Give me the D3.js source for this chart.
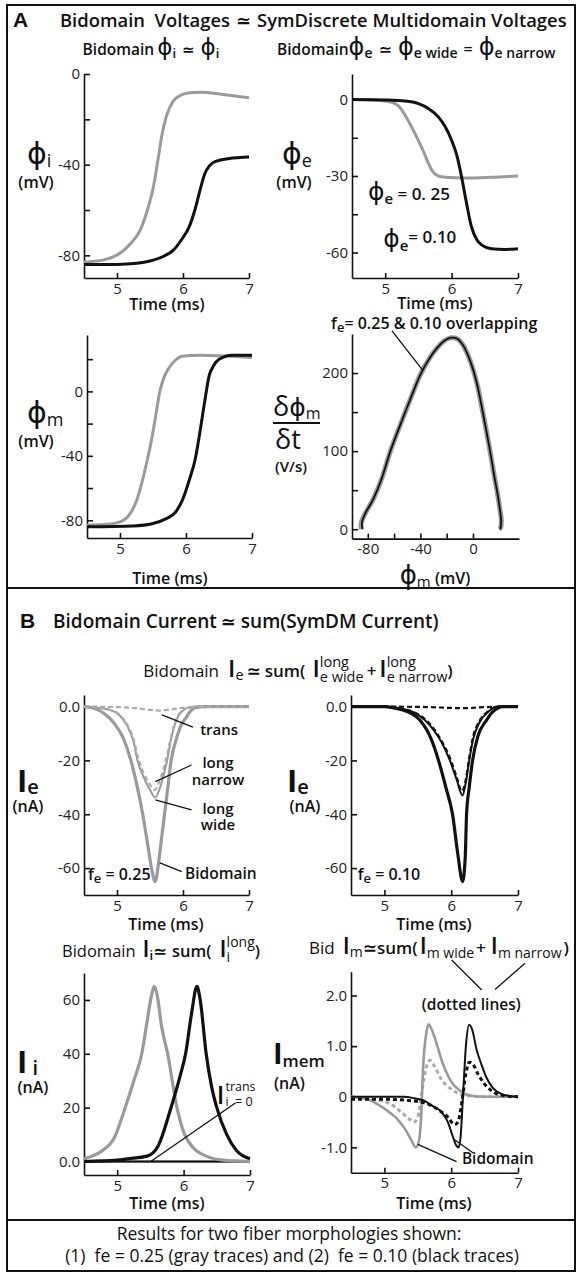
<!DOCTYPE html>
<html>
<head>
<meta charset="utf-8">
<title>Bidomain vs SymDiscrete Multidomain</title>
<style>
  body { margin: 0; background: #fff; }
  svg text { font-family: "Open Sans", "DejaVu Sans", sans-serif; fill: #111; }
  .axis path, .axis line { stroke: #111; stroke-width: 1.6px; }
  .axis text { font-size: 15px; fill: #222; font-family: "Open Sans", sans-serif; }
</style>
<script src="https://cdnjs.cloudflare.com/ajax/libs/d3/7.8.5/d3.min.js"></script>
</head>
<body>
<div id="chart"></div>
<script>
// ---------- data (time in ms) ----------
var timeTicks = [5, 6, 7];

// A: phi_i (mV)
var phiIGray  = [[4.5,-83],[4.8,-82],[5.05,-79],[5.2,-75],[5.35,-69],[5.45,-61],[5.55,-50],[5.62,-38],[5.68,-27],[5.75,-18.5],[5.85,-12],[5.95,-9.6],[6.1,-8.3],[6.26,-8],[6.6,-9],[7.0,-10.5]];
var phiIBlack = [[4.5,-84],[5.0,-84],[5.3,-83.5],[5.5,-82.5],[5.7,-80.5],[5.85,-77.8],[5.98,-73],[6.1,-67],[6.18,-60],[6.26,-51],[6.33,-44],[6.4,-40.5],[6.5,-38.5],[6.7,-37.3],[7.0,-36.6]];
// A: phi_e (mV)
var phiEGray  = [[4.5,0],[4.8,-0.2],[5.07,-0.9],[5.2,-2.5],[5.37,-9.4],[5.47,-14.5],[5.57,-20],[5.65,-25],[5.72,-28.4],[5.8,-30],[5.9,-30.5],[6.2,-30.8],[6.6,-30.5],[7.0,-30]];
var phiEBlack = [[4.5,0],[5.0,-0.2],[5.3,-0.6],[5.5,-1.6],[5.65,-3.5],[5.8,-6.8],[5.9,-10.5],[6.0,-16],[6.08,-22],[6.15,-30.3],[6.22,-40],[6.3,-50],[6.38,-55],[6.45,-57],[6.6,-58.5],[6.8,-58.8],[7.0,-58.5]];
// A: phi_m (mV)
var phiMGray  = [[4.5,-83],[4.8,-82.5],[5.0,-81],[5.15,-76],[5.25,-68],[5.32,-58.4],[5.4,-45],[5.48,-29.5],[5.55,-13],[5.6,-0.6],[5.66,8],[5.73,13.8],[5.83,19],[5.94,21.8],[6.2,22.5],[6.6,22],[7.0,21]];
var phiMBlack = [[4.5,-84],[5.2,-83.5],[5.5,-82],[5.7,-79],[5.84,-75],[5.95,-67],[6.05,-55],[6.14,-42],[6.2,-28],[6.25,-15],[6.3,-2],[6.35,9.6],[6.42,16],[6.5,20],[6.7,22.5],[7.0,22.5]];
// A: d(phi_m)/dt (V/s) against phi_m (mV)
var phaseGray  = [[-85,0],[-85,8],[-82,20],[-76,38],[-70,62],[-62.6,101],[-55,135],[-48,165],[-40,198],[-33,219],[-27.4,232],[-22,241],[-17.4,245],[-12,244],[-7.3,235],[-2,215],[2.8,188],[8,145],[12.8,102],[16,70],[19,42],[20.5,25],[21.6,11],[21,2],[20,0]];
var phaseBlack = [[-84,0],[-84.5,8],[-82,20],[-76,38],[-70,62],[-62.6,101],[-55,135],[-48,165],[-40,198],[-33,219],[-27.4,232],[-22,241],[-17.4,245],[-12,244],[-7.3,235],[-2,215],[2.8,188],[8,145],[12.8,102],[16,70],[19,42],[20.5,25],[21.4,11],[21,2],[20.5,0]];

// B: I_e (nA), fe = 0.25
var ieBidGray    = [[4.5,0],[4.65,-0.6],[4.8,-2.5],[4.95,-6],[5.1,-12],[5.21,-20],[5.3,-29],[5.39,-40],[5.47,-52],[5.53,-61],[5.58,-65],[5.63,-58],[5.68,-48],[5.72,-40],[5.77,-30],[5.82,-20],[5.9,-12],[5.97,-7],[6.05,-4],[6.12,-1.5],[6.2,-0.3],[6.35,0],[7.0,0]];
var ieWideGray   = [[4.5,0],[4.8,-0.8],[5.0,-2.5],[5.15,-7],[5.25,-13],[5.31,-20],[5.4,-26],[5.5,-31],[5.58,-33.8],[5.64,-31],[5.7,-26],[5.76,-20],[5.82,-12],[5.9,-5],[6.0,-1.5],[6.1,-0.3],[6.25,0],[7.0,0]];
var ieNarrowGray = [[4.5,0],[4.8,-0.7],[5.0,-2.3],[5.15,-6.5],[5.25,-12],[5.32,-19],[5.4,-24.5],[5.5,-29],[5.57,-31],[5.63,-28.5],[5.7,-23.5],[5.76,-18],[5.82,-11],[5.9,-4.5],[6.0,-1.3],[6.1,-0.3],[6.25,0],[7.0,0]];
var ieTransGray  = [[4.5,0],[5.0,-0.2],[5.3,-0.6],[5.5,-1.2],[5.65,-1.5],[5.8,-1.1],[6.0,-0.5],[6.3,-0.1],[7.0,0]];
// B: I_e (nA), fe = 0.10
var ieBidBlack    = [[4.5,0],[5.0,0],[5.23,-1],[5.4,-2.5],[5.53,-5],[5.7,-12],[5.81,-20],[5.92,-30],[6.02,-40],[6.1,-55],[6.17,-65],[6.21,-56],[6.23,-40],[6.27,-30],[6.32,-20],[6.4,-11],[6.53,-5],[6.62,-2],[6.78,0],[7.0,0]];
var ieWideBlack   = [[4.5,0],[5.0,0],[5.3,-1],[5.5,-3],[5.7,-7.5],[5.85,-13],[5.98,-20],[6.08,-27],[6.17,-33],[6.22,-28],[6.27,-20],[6.33,-12],[6.42,-6],[6.55,-2],[6.7,0],[7.0,0]];
var ieNarrowBlack = [[4.5,0],[5.0,0],[5.3,-1],[5.5,-2.8],[5.7,-7],[5.85,-12.5],[5.98,-19],[6.08,-26],[6.16,-31.5],[6.22,-27],[6.27,-19],[6.33,-11],[6.42,-5.5],[6.55,-1.8],[6.7,0],[7.0,0]];
var ieTransBlack  = [[4.5,0],[5.5,-0.1],[6.0,-0.5],[6.2,-0.6],[6.5,-0.2],[7.0,0]];

// B: I_i (nA)
var iiGray  = [[4.5,1],[4.62,2],[4.8,4.5],[4.95,8.5],[5.12,20],[5.25,30],[5.37,40],[5.45,52],[5.52,62],[5.56,65],[5.6,62],[5.67,50],[5.76,40],[5.9,20],[6.0,11],[6.15,5],[6.34,2],[6.6,0.5],[7.0,0]];
var iiBlack = [[4.5,0],[5.0,0.5],[5.15,1],[5.45,2],[5.61,5.5],[5.81,20],[5.95,32],[6.03,40],[6.12,55],[6.2,65],[6.25,60],[6.34,40],[6.42,28],[6.5,20],[6.65,10],[6.8,4],[7.0,1]];
var iiTrans = [[4.5,0],[5.5,0],[6.5,0],[7.0,0]];

// B: I_mem (nA)
var imBidGray   = [[4.5,0],[4.75,-0.05],[4.9,-0.15],[5.08,-0.31],[5.2,-0.45],[5.31,-0.64],[5.4,-0.85],[5.47,-1.0],[5.52,-0.85],[5.55,-0.4],[5.58,0.6],[5.62,1.2],[5.66,1.43],[5.7,1.35],[5.77,1.1],[5.85,0.75],[5.91,0.54],[6.0,0.3],[6.13,0.12],[6.3,0.02],[6.5,0],[7.0,0]];
var imDashGray  = [[4.5,0],[4.9,-0.06],[5.1,-0.15],[5.25,-0.3],[5.38,-0.45],[5.44,-0.5],[5.5,-0.4],[5.56,0.1],[5.62,0.55],[5.68,0.72],[5.75,0.6],[5.85,0.35],[6.0,0.15],[6.2,0.03],[6.5,0],[7.0,0]];
var imBidBlack  = [[4.5,0],[5.3,0],[5.45,-0.03],[5.58,-0.07],[5.72,-0.18],[5.86,-0.31],[5.95,-0.5],[6.02,-0.77],[6.08,-0.97],[6.11,-1.0],[6.14,-0.8],[6.18,0.1],[6.22,1.0],[6.27,1.42],[6.32,1.3],[6.38,0.93],[6.45,0.65],[6.52,0.4],[6.62,0.18],[6.74,0.06],[6.9,0.01],[7.0,0]];
var imDashBlack = [[4.5,-0.05],[5.0,-0.05],[5.4,-0.08],[5.6,-0.12],[5.8,-0.25],[5.95,-0.4],[6.05,-0.55],[6.1,-0.5],[6.16,-0.1],[6.22,0.45],[6.27,0.68],[6.32,0.65],[6.4,0.45],[6.5,0.25],[6.65,0.08],[6.8,0.02],[7.0,0]];

var GRAY = '#9a9a9a', LIGHT = '#ababab', BLACK = '#111';

// ---------- helpers ----------
var svg = d3.select('#chart').append('svg').attr('width', 577).attr('height', 1274);

function fmtInt(d) { return String(d); }
function fmtNA(d) { return d === 0 ? '0.0' : String(d); }
function fmtMem(d) { return d === 0 ? '0' : d.toFixed(1); }

function panel(p) {
    var x = d3.scaleLinear().domain(p.xDomain).range(p.xRange);
    var y = d3.scaleLinear().domain(p.yDomain).range(p.yRange);
    var g = svg.append('g');
    g.append('g').attr('class', 'axis')
        .attr('transform', 'translate(' + p.xRange[0] + ',0)')
        .call(d3.axisLeft(y).tickValues(p.yTicks.concat(p.yMinor || []))
            .tickSize(-6).tickSizeOuter(0).tickPadding(4)
            .tickFormat(function(d){ return p.yTicks.indexOf(d) >= 0 ? p.yFmt(d) : ''; }));
    g.append('g').attr('class', 'axis')
        .attr('transform', 'translate(0,' + p.yRange[0] + ')')
        .call(d3.axisBottom(x).tickValues(p.xTicks.concat(p.xMinor || []))
            .tickSize(-5).tickSizeOuter(0).tickPadding(5)
            .tickFormat(function(d){ return p.xTicks.indexOf(d) >= 0 ? String(d) : ''; }));
    return {x: x, y: y, g: g};
}

function trace(pn, data, color, width, dash, curveType) {
    pn.g.append('path').datum(data)
        .attr('fill', 'none')
        .attr('stroke', color)
        .attr('stroke-width', width)
        .attr('stroke-dasharray', dash || null)
        .attr('stroke-linejoin', 'round')
        .attr('d', d3.line()
            .x(function(d){ return pn.x(d[0]); })
            .y(function(d){ return pn.y(d[1]); })
            .curve(curveType || d3.curveMonotoneX));
}

function leader(pn, a, b) {
    pn.g.append('line')
        .attr('x1', pn.x(a[0])).attr('y1', pn.y(a[1]))
        .attr('x2', pn.x(b[0])).attr('y2', pn.y(b[1]))
        .attr('stroke', BLACK).attr('stroke-width', 1.3);
}

// row of text runs: {t, s, w, o, f} or {sup, sub, s, supO, subO} or {gap}
function row(parent, x, y, items, anchor) {
    var g = parent.append('g');
    var cx = 0;
    function run(txt, size, weight, off, fam, at) {
        var t = g.append('text').attr('x', at).attr('y', off || 0)
            .style('font-size', size + 'px')
            .style('font-weight', weight || 600)
            .style('white-space', 'pre')
            .text(txt);
        if (fam === 'dv') t.style('font-family', '"DejaVu Sans", sans-serif');
        return t.node().getComputedTextLength();
    }
    items.forEach(function(it){
        if (it.gap) { cx += it.gap; return; }
        if (it.sup !== undefined) {
            var w1 = run(it.sup, it.s, it.w, it.supO, null, cx);
            var w2 = run(it.sub, it.s, it.w, it.subO, null, cx);
            cx += Math.max(w1, w2);
            return;
        }
        cx += run(it.t, it.s, it.w, it.o, it.f, cx);
    });
    var off = anchor === 'middle' ? -cx / 2 : (anchor === 'end' ? -cx : 0);
    g.attr('transform', 'translate(' + (x + off) + ',' + y + ')');
    return g;
}

function label(txt, x, y, size, anchor, weight) {
    svg.append('text').attr('x', x).attr('y', y)
        .attr('text-anchor', anchor || 'middle')
        .style('font-size', size + 'px').style('font-weight', weight || 600)
        .style('white-space', 'pre')
        .text(txt);
}

// ---------- frame ----------
svg.append('rect').attr('x', 7).attr('y', 5).attr('width', 568).attr('height', 1266)
    .attr('fill', 'none').attr('stroke', BLACK).attr('stroke-width', 2);
[588, 1220].forEach(function(yy){
    svg.append('line').attr('x1', 7).attr('x2', 575).attr('y1', yy).attr('y2', yy)
        .attr('stroke', BLACK).attr('stroke-width', 2);
});

// ---------- panel A header ----------
svg.append('text').attr('x', 13).attr('y', 27).text('A')
    .style('font-family', '"Liberation Sans", sans-serif').style('font-weight', 700).style('font-size', '21px');
row(svg, 60, 27, [{t:'Bidomain  Voltages', s:18.4}, {gap:6}, {t:'\u2243', s:18, f:'dv'}, {gap:6}, {t:'SymDiscrete Multidomain Voltages', s:18.4}]);
row(svg, 151, 55, [{t:'Bidomain', s:15.5}, {gap:3}, {t:'\u03d5', s:23, f:'dv', w:400}, {t:'i', s:13, o:3}, {gap:6}, {t:'\u2243', s:15, f:'dv'}, {gap:6}, {t:'\u03d5', s:23, f:'dv', w:400}, {t:'i', s:13, o:3}], 'middle');
row(svg, 277, 55, [{t:'Bidomain', s:15.5}, {t:'\u03d5', s:24, f:'dv', w:400}, {t:'e', s:14, o:3}, {gap:6}, {t:'\u2243', s:16, f:'dv'}, {gap:6}, {t:'\u03d5', s:24, f:'dv', w:400}, {t:'e wide', s:14, o:3}, {gap:6}, {t:'=', s:16}, {gap:6}, {t:'\u03d5', s:24, f:'dv', w:400}, {t:'e narrow', s:14, o:3}]);

// A1: phi_i
var a1 = panel({xDomain:[4.5,7], xRange:[84,249], yDomain:[-90,0], yRange:[278,74],
    yTicks:[0,-40,-80], yMinor:[-20,-60], yFmt:fmtInt, xTicks:timeTicks});
trace(a1, phiIGray, GRAY, 3);
trace(a1, phiIBlack, BLACK, 3);
row(svg, 27, 164, [{t:'\u03d5', s:30, f:'dv', w:400}, {t:'i', s:18, o:3, w:400}]);
label('(mV)', 36, 188, 16);
label('Time (ms)', 167, 310, 16);

// A2: phi_e
var a2 = panel({xDomain:[4.5,7], xRange:[352,518], yDomain:[-70,10], yRange:[278,74],
    yTicks:[0,-30,-60], yMinor:[-15,-45], yFmt:fmtInt, xTicks:timeTicks});
trace(a2, phiEGray, GRAY, 3);
trace(a2, phiEBlack, BLACK, 3);
row(svg, 282, 164, [{t:'\u03d5', s:30, f:'dv', w:400}, {t:'e', s:18, o:3, w:400}]);
label('(mV)', 294, 188, 16);
label('Time (ms)', 435, 309, 16);
row(a2.g, a2.x(4.74), a2.y(-39.4), [{t:'\u03d5', s:25, f:'dv', w:400}, {t:'e', s:15, o:4}, {t:' = 0. 25', s:17}]);
row(a2.g, a2.x(4.97), a2.y(-57.8), [{t:'\u03d5', s:25, f:'dv', w:400}, {t:'e', s:15, o:4}, {t:'= 0.10', s:17, o:-4}]);

// A3: phi_m
var a3 = panel({xDomain:[4.5,7], xRange:[87,252], yDomain:[-91,35], yRange:[538,335],
    yTicks:[0,-40,-80], yMinor:[20,-20,-60], yFmt:fmtInt, xTicks:timeTicks});
trace(a3, phiMGray, GRAY, 3);
trace(a3, phiMBlack, BLACK, 3);
row(svg, 27, 423, [{t:'\u03d5', s:30, f:'dv', w:400}, {t:'m', s:18, o:3, w:400}]);
label('(mV)', 36, 447, 16);
label('Time (ms)', 170, 584, 16);

// A4: dphi_m/dt vs phi_m
var a4 = panel({xDomain:[-92,35], xRange:[352,519], yDomain:[-12,250], yRange:[538.6,334],
    yTicks:[0,100,200], yMinor:[50,150], yFmt:fmtInt, xTicks:[-80,-40,0], xMinor:[-60,-20]});
trace(a4, phaseGray, GRAY, 5, null, d3.curveCatmullRom);
trace(a4, phaseBlack, BLACK, 1.8, null, d3.curveCatmullRom);
row(svg, 273, 416, [{t:'\u03b4', s:27, w:400}, {t:'\u03d5', s:25, f:'dv', w:400}, {t:'m', s:16, o:3, w:400}]);
svg.append('line').attr('x1', 273).attr('x2', 320).attr('y1', 423).attr('y2', 423).attr('stroke', BLACK).attr('stroke-width', 1.8);
row(svg, 275, 449, [{t:'\u03b4t', s:27, w:400}]);
label('(V/s)', 291, 472, 15);
row(svg, 435, 584, [{t:'\u03d5', s:26, f:'dv', w:400}, {t:'m', s:15, o:3, w:400}, {t:' (mV)', s:16}], 'middle');
row(a4.g, a4.x(-29.5), a4.y(256.5), [{t:'f', s:16}, {t:'e', s:13, o:3}, {t:'= 0.25 & 0.10 overlapping', s:16}], 'middle');
leader(a4, [-61.6, 254], [-38, 203]);

// ---------- panel B header ----------
svg.append('text').attr('x', 20).attr('y', 628).text('B')
    .style('font-family', '"Liberation Sans", sans-serif').style('font-weight', 700).style('font-size', '21px');
row(svg, 53, 628, [{t:'Bidomain Current', s:19}, {gap:4}, {t:'\u2243', s:18, f:'dv'}, {gap:5}, {t:'sum(SymDM Current)', s:19}]);
row(svg, 298, 677, [{t:'Bidomain', s:17, w:500}, {gap:9}, {t:'I', s:24}, {t:'e', s:14.5, o:3, w:500}, {gap:3}, {t:'\u2243', s:17, f:'dv'}, {gap:4}, {t:'sum(', s:17},
    {gap:7}, {t:'I', s:24}, {sup:'long', sub:'e wide', s:14.5, supO:-10, subO:5, w:500}, {gap:3}, {t:'+', s:17}, {gap:3},
    {t:'I', s:24}, {sup:'long', sub:'e narrow', s:14.5, supO:-10, subO:5, w:500}, {t:')', s:17}], 'middle');

// B1: I_e fe = 0.25
var b1 = panel({xDomain:[4.5,7], xRange:[84,249], yDomain:[-70,4.3], yRange:[895,695],
    yTicks:[0,-20,-40,-60], yFmt:fmtNA, xTicks:timeTicks});
trace(b1, ieTransGray, LIGHT, 2.2, '5,3');
trace(b1, ieBidGray, GRAY, 3.2);
trace(b1, ieWideGray, GRAY, 2);
trace(b1, ieNarrowGray, LIGHT, 2.2, '5,3');
row(svg, 17, 792, [{t:'I', s:31, w:700}, {t:'e', s:20, o:2}]);
label('(nA)', 28, 812, 16);
label('Time (ms)', 166, 930, 16);
row(b1.g, b1.x(4.56), b1.y(-64.3), [{t:'f', s:16}, {t:'e', s:13, o:3}, {t:' = 0.25', s:16}]);
row(b1.g, b1.x(6.26), b1.y(-10.6), [{t:'trans', s:15}]);
leader(b1, [5.68, -3.1], [6.15, -7.6]);
row(b1.g, b1.x(6.53), b1.y(-22.8), [{t:'long', s:15}], 'middle');
row(b1.g, b1.x(6.53), b1.y(-29), [{t:'narrow', s:15}], 'middle');
leader(b1, [5.58, -27.9], [6.13, -21.7]);
row(b1.g, b1.x(6.53), b1.y(-40), [{t:'long', s:15}], 'middle');
row(b1.g, b1.x(6.53), b1.y(-46), [{t:'wide', s:15}], 'middle');
leader(b1, [5.58, -34.7], [6.13, -38.4]);
row(b1.g, b1.x(6.03), b1.y(-64.2), [{t:'Bidomain', s:15.5}]);
leader(b1, [5.65, -58.1], [5.98, -61.3]);

// B2: I_e fe = 0.10
var b2 = panel({xDomain:[4.5,7], xRange:[351,518], yDomain:[-70,4.3], yRange:[895,695],
    yTicks:[0,-20,-40,-60], yFmt:fmtNA, xTicks:timeTicks});
trace(b2, ieTransBlack, BLACK, 2.2, '5,3');
trace(b2, ieBidBlack, BLACK, 3.2);
trace(b2, ieWideBlack, BLACK, 2);
trace(b2, ieNarrowBlack, BLACK, 2.2, '5,3');
row(svg, 287, 792, [{t:'I', s:31, w:700}, {t:'e', s:20, o:2}]);
label('(nA)', 305, 812, 16);
label('Time (ms)', 434, 930, 16);
row(b2.g, b2.x(4.6), b2.y(-64.3), [{t:'f', s:16}, {t:'e', s:13, o:3}, {t:' = 0.10', s:16}]);

// B3 header + I_i
row(svg, 161, 957, [{t:'Bidomain', s:16.5, w:500}, {gap:7}, {t:'I', s:23}, {t:'i', s:13, o:3}, {t:'\u2243', s:16.5, f:'dv'}, {gap:5}, {t:'sum(', s:16.5}, {gap:8},
    {t:'I', s:23}, {sup:'long', sub:'i', s:14, supO:-10, subO:5, w:500}, {t:')', s:16.5}], 'middle');
var b3 = panel({xDomain:[4.5,7], xRange:[84,250], yDomain:[-5,70], yRange:[1175,973],
    yTicks:[0,20,40,60], yFmt:fmtNA, xTicks:timeTicks});
trace(b3, iiTrans, GRAY, 2.2);
trace(b3, iiTrans, BLACK, 2);
trace(b3, iiGray, GRAY, 3.2);
trace(b3, iiBlack, BLACK, 3.2);
row(svg, 17, 1073, [{t:'I', s:31, w:700}, {t:' i', s:20, o:2}]);
label('(nA)', 33, 1093, 16);
label('Time (ms)', 167, 1209, 16);
row(b3.g, b3.x(6.5), b3.y(21.2), [{t:'I', s:25}, {gap:1}, {sup:'trans', sub:'i  = 0', s:12.5, supO:-13, subO:2, w:500}]);
leader(b3, [6.78, 21.7], [5.51, 0.1]);

// B4 header + I_mem
row(svg, 439, 954, [{t:'Bid', s:17, w:500}, {gap:8}, {t:'I', s:23}, {t:'m', s:14, o:3, w:500}, {t:'\u2243', s:17, f:'dv'}, {t:'sum(', s:17}, {gap:2},
    {t:'I', s:23}, {t:'m wide', s:14, o:4, w:500}, {gap:2}, {t:'+', s:17}, {gap:5}, {t:'I', s:23}, {t:'m narrow', s:14, o:4, w:500}, {gap:2}, {t:')', s:17}], 'middle');
var b4 = panel({xDomain:[4.5,7], xRange:[351,518], yDomain:[-1.5,2.47], yRange:[1172.7,971.7],
    yTicks:[2,1,0,-1], yFmt:fmtMem, xTicks:timeTicks});
trace(b4, imDashGray, LIGHT, 3, '4,3');
trace(b4, imBidGray, GRAY, 2.6);
trace(b4, imDashBlack, BLACK, 3, '4,3');
trace(b4, imBidBlack, BLACK, 2);
row(svg, 273, 1064, [{t:'I', s:29, w:700}, {t:'mem', s:17, o:3}]);
label('(nA)', 274, 1089, 16, 'start');
label('Time (ms)', 434, 1209, 16);
row(b4.g, b4.x(6.3), b4.y(1.71), [{t:'(dotted lines)', s:15.5}], 'middle');
leader(b4, [6.007, 2.70], [6.457, 2.108]);
leader(b4, [7.105, 2.636], [6.656, 2.12]);
row(b4.g, b4.x(6.16), b4.y(-1.33), [{t:'Bidomain', s:15.5}]);
leader(b4, [5.5, -0.94], [6.08, -1.28]);
leader(b4, [6.05, -0.85], [6.33, -1.11]);

// ---------- footer ----------
label('Results for two fiber morphologies shown:', 289, 1240, 17.5, 'middle', 500);
label('(1)  fe = 0.25 (gray traces) and (2)  fe = 0.10 (black traces)', 292, 1262, 17.5, 'middle', 500);
</script>
</body>
</html>
